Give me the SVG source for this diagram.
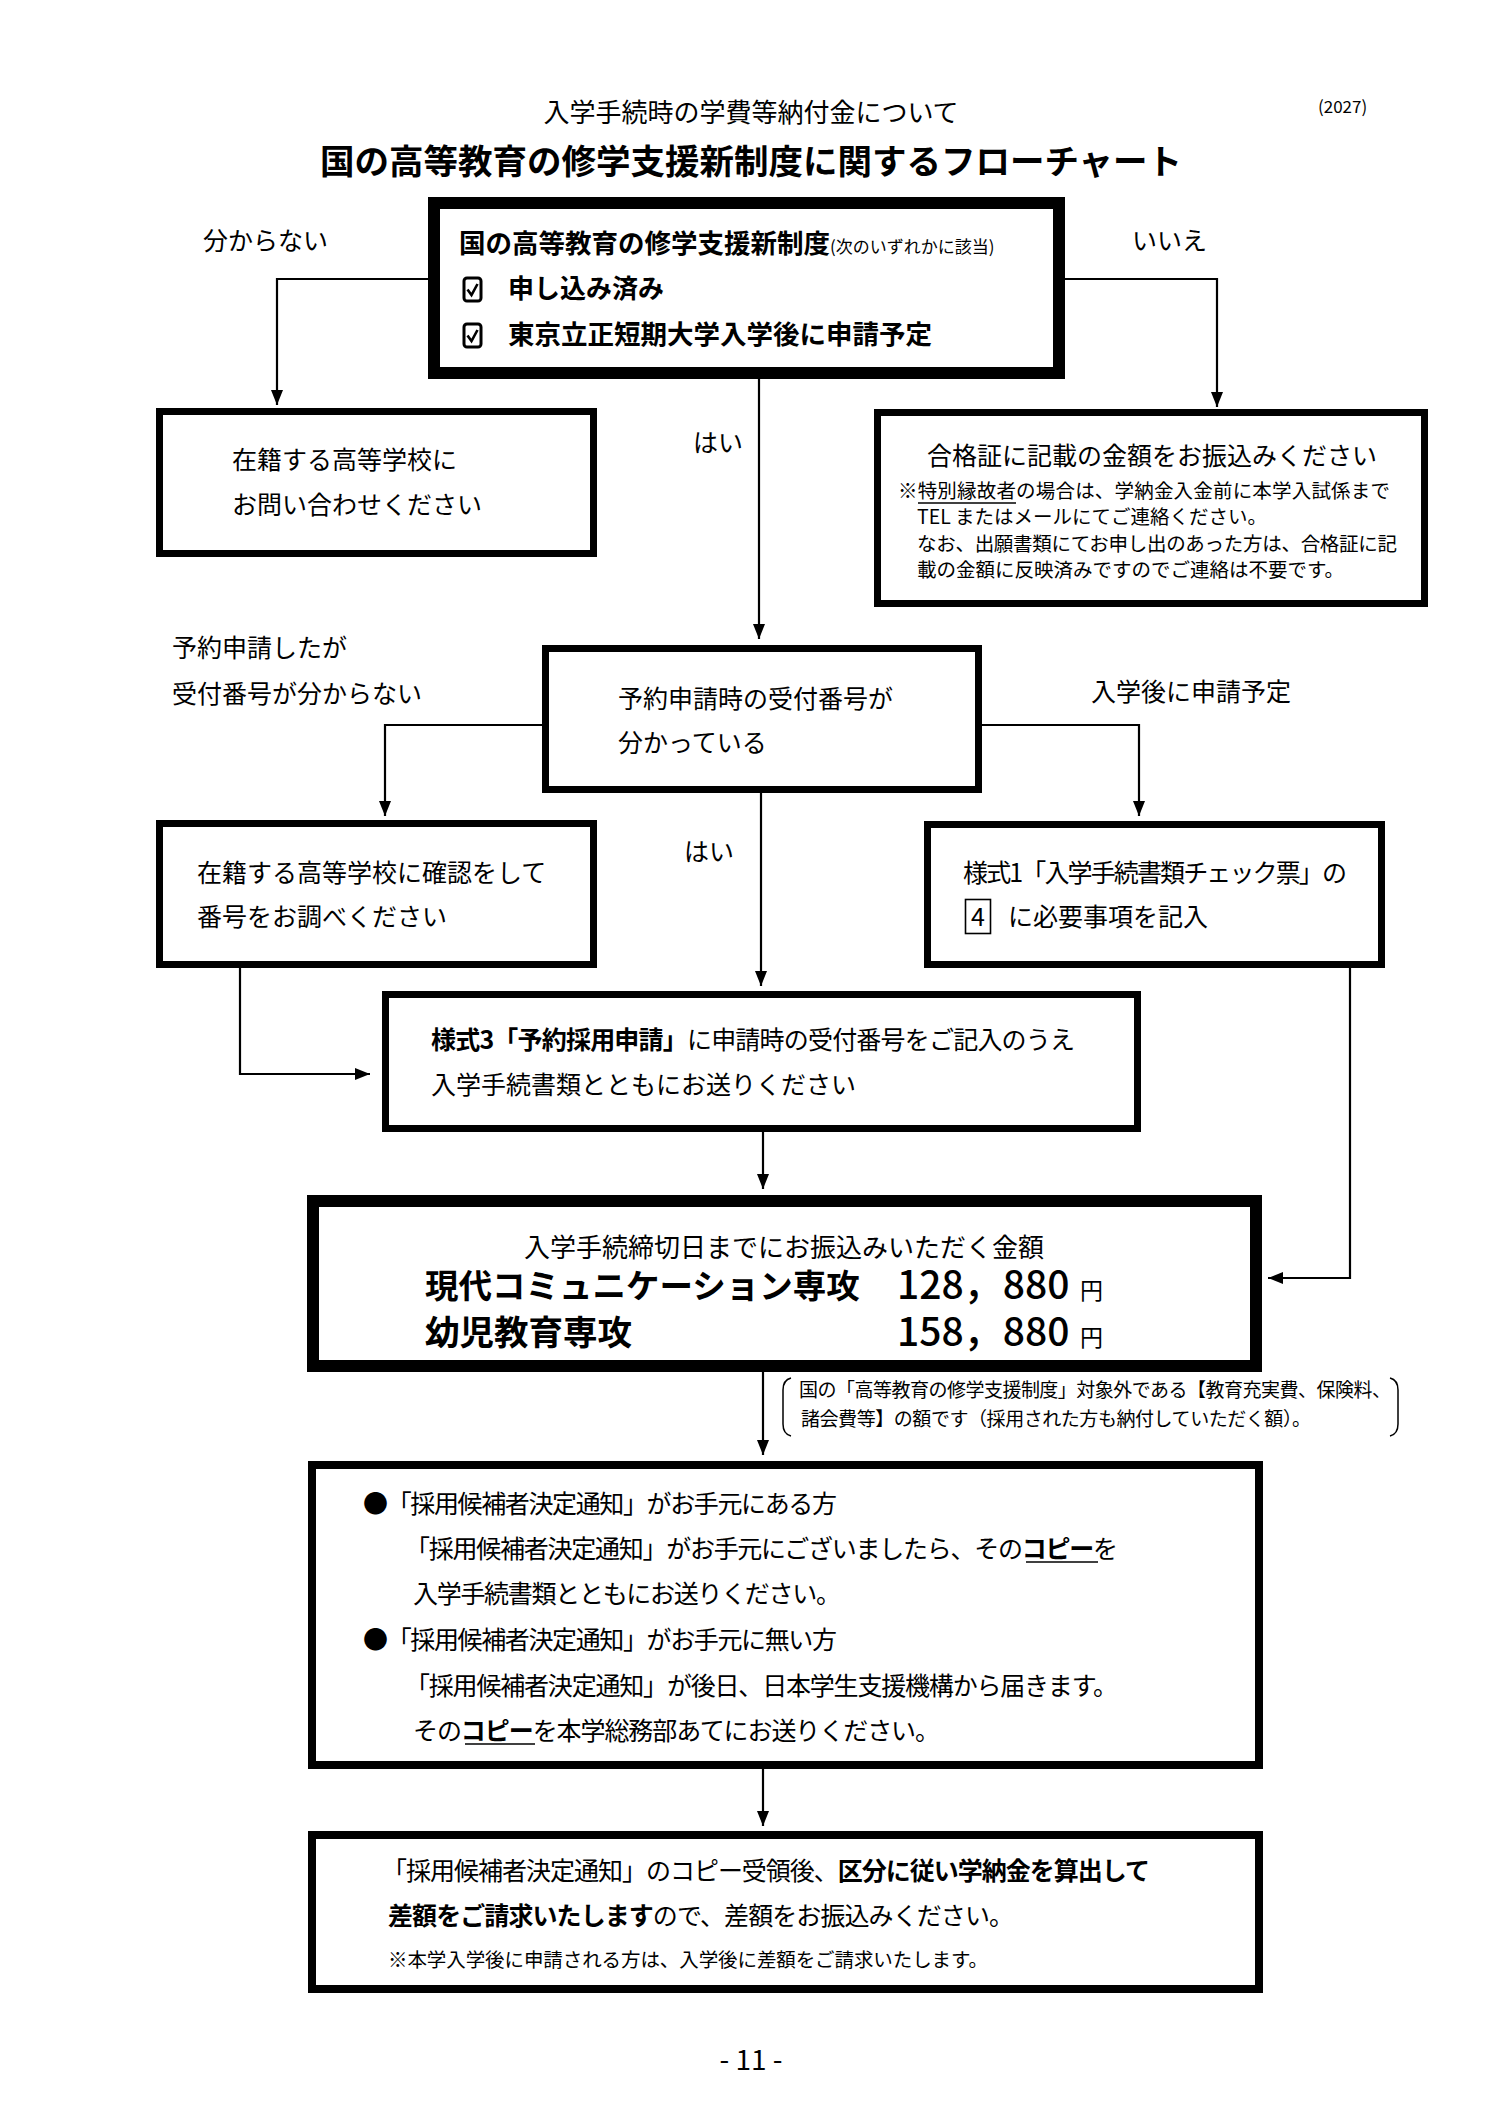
<svg xmlns="http://www.w3.org/2000/svg" width="1500" height="2123" viewBox="0 0 1500 2123">
<style>
text{font-family:"Noto Sans CJK JP","Noto Sans",sans-serif;fill:#000}
.t25{font-size:25px}
.t26{font-size:26px}
.t19{font-size:19.5px}
.b{font-weight:700}
.box{fill:#fff;stroke:#000;stroke-width:7}
.boxm{fill:#fff;stroke:#000;stroke-width:8}
.boxk{fill:#fff;stroke:#000;stroke-width:12}
.ln{fill:none;stroke:#000;stroke-width:2.2}
.ul{stroke:#000;stroke-width:1.6}
.cb{fill:none;stroke:#000;stroke-width:3}
</style>
<defs>
<marker id="ah" markerUnits="userSpaceOnUse" markerWidth="15" markerHeight="12" refX="15" refY="6" orient="auto">
<path d="M0,0 L15,6 L0,12 z" fill="#000"/>
</marker>
</defs>

<g id="header">
<text class="t26" x="751" y="122" text-anchor="middle">入学手続時の学費等納付金について</text>
<text x="1318" y="113" style="font-size:17px">(2027)</text>
<text class="b" x="751" y="174" text-anchor="middle" style="font-size:34.5px">国の高等教育の修学支援新制度に関するフローチャート</text>
</g>

<g id="connectors">
<polyline class="ln" points="428,279 277,279 277,405" marker-end="url(#ah)"/>
<polyline class="ln" points="1065,279 1217,279 1217,407" marker-end="url(#ah)"/>
<line class="ln" x1="759" y1="379" x2="759" y2="639" marker-end="url(#ah)"/>
<polyline class="ln" points="542,725 385,725 385,816" marker-end="url(#ah)"/>
<polyline class="ln" points="982,725 1139,725 1139,816" marker-end="url(#ah)"/>
<line class="ln" x1="761" y1="793" x2="761" y2="986" marker-end="url(#ah)"/>
<polyline class="ln" points="240,968 240,1074 370,1074" marker-end="url(#ah)"/>
<polyline class="ln" points="1350,968 1350,1278 1268,1278" marker-end="url(#ah)"/>
<line class="ln" x1="763" y1="1132" x2="763" y2="1189" marker-end="url(#ah)"/>
<line class="ln" x1="763" y1="1372" x2="763" y2="1455" marker-end="url(#ah)"/>
<line class="ln" x1="763" y1="1769" x2="763" y2="1826" marker-end="url(#ah)"/>
</g>

<g id="edge-labels">
<text class="t25" x="203" y="250">分からない</text>
<text class="t25" x="1132" y="250">いいえ</text>
<text class="t25" x="693" y="452">はい</text>
<text class="t25" x="172" y="657">予約申請したが</text>
<text class="t25" x="172" y="703">受付番号が分からない</text>
<text class="t25" x="1091" y="701">入学後に申請予定</text>
<text class="t25" x="684" y="861">はい</text>
</g>

<g id="n-start">
<rect class="boxk" x="434" y="203" width="625" height="170"/>
<text class="b" x="459" y="253" style="font-size:26.5px">国の高等教育の修学支援新制度<tspan style="font-size:17px;font-weight:400">(次のいずれかに該当)</tspan></text>
<rect class="cb" x="464" y="278" width="17" height="23" rx="3"/>
<polyline class="cb" points="467.5,289.5 471.5,295 477.5,284" style="stroke-width:2.6"/>
<text class="b" x="508" y="298" style="font-size:26px">申し込み済み</text>
<rect class="cb" x="464" y="324" width="17" height="23" rx="3"/>
<polyline class="cb" points="467.5,335.5 471.5,341 477.5,330" style="stroke-width:2.6"/>
<text class="b" x="508" y="344" style="font-size:26.5px">東京立正短期大学入学後に申請予定</text>
</g>

<g id="n-ask-school">
<rect class="box" x="159.5" y="411.5" width="434" height="142"/>
<text class="t25" x="232" y="469">在籍する高等学校に</text>
<text class="t25" x="232" y="514">お問い合わせください</text>
</g>

<g id="n-pay-by-pass">
<rect class="box" x="877.5" y="412.5" width="547" height="191"/>
<text class="t25" x="1152" y="465" text-anchor="middle">合格証に記載の金額をお振込みください</text>
<text class="t19" x="898" y="498" textLength="492" lengthAdjust="spacing">※特別縁故者の場合は、学納金入金前に本学入試係まで</text>
<line class="ul" x1="918" y1="503" x2="1016" y2="503"/>
<text class="t19" x="917" y="524">TEL またはメールにてご連絡ください。</text>
<text class="t19" x="917" y="551" textLength="480" lengthAdjust="spacing">なお、出願書類にてお申し出のあった方は、合格証に記</text>
<text class="t19" x="917" y="577">載の金額に反映済みですのでご連絡は不要です。</text>
</g>

<g id="n-number">
<rect class="box" x="545.5" y="648.5" width="433" height="141"/>
<text class="t25" x="618" y="708">予約申請時の受付番号が</text>
<text class="t25" x="618" y="752">分かっている</text>
</g>

<g id="n-check-school">
<rect class="box" x="159.5" y="823.5" width="434" height="141"/>
<text class="t25" x="197" y="882">在籍する高等学校に確認をして</text>
<text class="t25" x="197" y="926">番号をお調べください</text>
</g>

<g id="n-form1">
<rect class="box" x="927.5" y="824.5" width="454" height="140"/>
<text class="t25" x="963" y="882" textLength="384" lengthAdjust="spacing">様式1「入学手続書類チェック票」の</text>
<rect x="965.5" y="899.5" width="25" height="34" fill="none" stroke="#000" stroke-width="1.6"/>
<text class="t25" x="978" y="926" text-anchor="middle">4</text>
<text class="t25" x="1008" y="926">に必要事項を記入</text>
</g>

<g id="n-form3">
<rect class="box" x="385.5" y="994.5" width="752" height="134"/>
<text class="t25" x="431" y="1049" textLength="644" lengthAdjust="spacing"><tspan class="b">様式3「予約採用申請」</tspan>に申請時の受付番号をご記入のうえ</text>
<text class="t25" x="431" y="1094">入学手続書類とともにお送りください</text>
</g>

<g id="n-amount">
<rect class="boxk" x="313" y="1201" width="943" height="165"/>
<text class="t26" x="784" y="1257" text-anchor="middle">入学手続締切日までにお振込みいただく金額</text>
<text class="b" x="425" y="1298" style="font-size:33.5px">現代コミュニケーション専攻</text>
<text class="b" x="425" y="1345" style="font-size:34.5px">幼児教育専攻</text>
<text x="897" y="1299" style="font-size:39px;font-weight:500">128，880</text>
<text x="1080" y="1299" style="font-size:23px">円</text>
<text x="897" y="1346" style="font-size:39px;font-weight:500">158，880</text>
<text x="1080" y="1346" style="font-size:23px">円</text>
</g>

<g id="note">
<path d="M791,1378 Q783,1380 783,1390 L783,1424 Q783,1434 791,1436" fill="none" stroke="#000" stroke-width="1.5"/>
<path d="M1390,1378 Q1398,1380 1398,1390 L1398,1424 Q1398,1434 1390,1436" fill="none" stroke="#000" stroke-width="1.5"/>
<text x="799" y="1397" style="font-size:19px" textLength="592" lengthAdjust="spacing">国の「高等教育の修学支援制度」対象外である【教育充実費、保険料、</text>
<text x="801" y="1426" style="font-size:19px" textLength="510" lengthAdjust="spacing">諸会費等】の額です（採用された方も納付していただく額）。</text>
</g>

<g id="n-notice">
<rect class="boxm" x="312" y="1465" width="947" height="300"/>
<text class="t25" x="363" y="1513" textLength="474" lengthAdjust="spacing">●「採用候補者決定通知」がお手元にある方</text>
<text class="t25" x="405" y="1558" textLength="713" lengthAdjust="spacing">「採用候補者決定通知」がお手元にございましたら、その<tspan class="b">コピー</tspan>を</text>
<line class="ul" x1="1026" y1="1562" x2="1098" y2="1562"/>
<text class="t25" x="413" y="1603" textLength="428" lengthAdjust="spacing">入学手続書類とともにお送りください。</text>
<text class="t25" x="363" y="1649" textLength="474" lengthAdjust="spacing">●「採用候補者決定通知」がお手元に無い方</text>
<text class="t25" x="405" y="1695" textLength="713" lengthAdjust="spacing">「採用候補者決定通知」が後日、日本学生支援機構から届きます。</text>
<text class="t25" x="413" y="1740" textLength="527" lengthAdjust="spacing">その<tspan class="b">コピー</tspan>を本学総務部あてにお送りください。</text>
<line class="ul" x1="465" y1="1744" x2="535" y2="1744"/>
</g>

<g id="n-final">
<rect class="boxm" x="312" y="1835" width="947" height="154"/>
<text class="t25" x="382" y="1880" textLength="768" lengthAdjust="spacing">「採用候補者決定通知」のコピー受領後、<tspan class="b">区分に従い学納金を算出して</tspan></text>
<text class="t25" x="388" y="1925" textLength="626" lengthAdjust="spacing"><tspan class="b">差額をご請求いたします</tspan>ので、差額をお振込みください。</text>
<text class="t19" x="388" y="1967" textLength="600" lengthAdjust="spacing">※本学入学後に申請される方は、入学後に差額をご請求いたします。</text>
</g>

<g id="footer">
<text x="751" y="2070" text-anchor="middle" style="font-size:28px">- 11 -</text>
</g>
</svg>
